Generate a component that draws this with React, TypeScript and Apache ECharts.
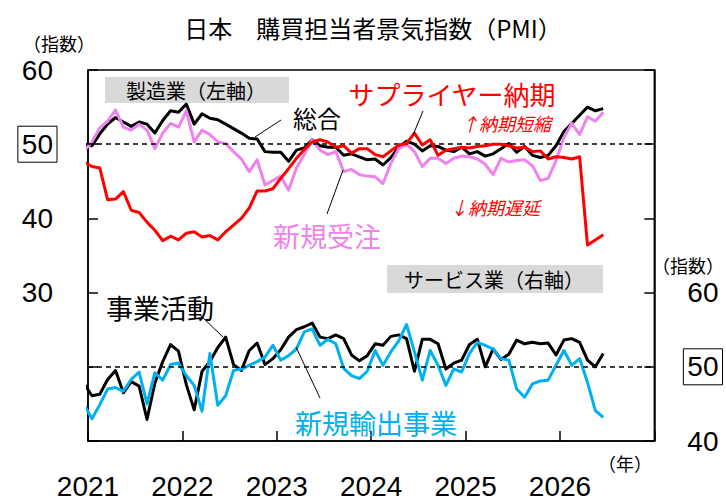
import React, { useEffect, useRef } from 'react';
import * as echarts from 'echarts';

// Monthly values, Dec 2020 .. Jun 2026 (first point is clipped at the axis)
const mfgComposite = [
  50.0,
  49.8, 51.4, 52.7, 53.6, 53.0, 52.4, 53.0, 52.7, 51.5, 53.2, 54.5, 54.3,
  55.4, 52.7, 54.1, 53.5, 53.3, 52.7, 52.1, 51.5, 50.8, 50.7, 49.0, 48.9,
  48.9, 47.7, 49.2, 49.5, 50.6, 49.8, 49.6, 49.6, 48.5, 48.7, 48.3, 47.9,
  48.0, 47.2, 48.2, 49.6, 50.4, 50.0, 49.1, 49.8, 49.7, 49.2, 49.0, 49.6,
  48.7, 49.0, 48.4, 48.7, 49.4, 50.1, 48.9, 49.7, 48.5, 48.2, 48.5, 49.8,
  51.7, 52.8, 53.9, 55.0, 54.5, 54.8,
];
const mfgNewOrders = [
  49.1,
  50.3, 52.2, 53.1, 54.6, 52.3, 51.9, 52.7, 51.9, 49.4, 51.5, 52.8, 52.3,
  54.5, 50.3, 51.9, 51.3, 50.3, 50.1, 49.0, 48.0, 46.3, 47.9, 44.5, 45.1,
  45.7, 43.8, 46.8, 48.6, 50.6, 49.2, 48.6, 49.0, 46.3, 46.6, 45.9, 45.7,
  45.6, 44.7, 47.4, 49.4, 50.0, 49.0, 47.0, 48.1, 48.1, 47.4, 48.1, 48.4,
  48.3, 48.0, 47.3, 45.9, 48.1, 47.6, 47.8, 47.9, 47.1, 45.1, 45.4, 47.8,
  50.9, 52.8, 51.3, 53.7, 53.1, 54.3,
];
const mfgDelivery = [
  47.6,
  47.0, 46.8, 42.5, 42.6, 43.6, 41.1, 40.8, 39.5, 38.4, 37.0, 37.6, 37.1,
  38.0, 38.2, 37.5, 37.7, 37.1, 38.2, 39.1, 40.0, 41.4, 43.7, 43.7, 44.0,
  45.4, 46.7, 48.1, 49.3, 50.3, 50.6, 50.3, 49.6, 49.8, 48.8, 49.4, 49.4,
  48.6, 48.3, 49.1, 49.9, 50.1, 51.5, 49.9, 50.6, 48.5, 49.2, 49.4, 49.6,
  49.5, 49.7, 49.8, 50.0, 50.0, 49.8, 49.5, 49.6, 49.0, 49.1, 48.0, 48.3,
  48.2, 48.0, 48.3, 36.4, 37.1, 37.8,
];
const svcActivity = [
  47.7,
  46.1, 46.3, 48.3, 49.5, 46.5, 48.0, 47.4, 42.9, 47.8, 50.7, 53.0, 52.1,
  47.6, 44.2, 49.4, 50.7, 52.6, 54.0, 50.3, 49.5, 52.2, 53.2, 50.3, 51.1,
  52.3, 54.0, 55.0, 55.4, 55.9, 54.0, 53.8, 54.3, 53.8, 51.6, 50.8, 51.5,
  53.1, 52.9, 54.1, 54.3, 53.8, 49.4, 53.7, 53.7, 53.1, 49.7, 50.5, 50.9,
  53.0, 53.7, 50.0, 52.4, 51.0, 51.7, 53.6, 53.1, 53.3, 53.1, 53.2, 51.6,
  53.6, 53.8, 53.3, 50.9, 50.0, 51.8,
];
const svcNewExport = [
  44.9,
  43.0, 44.9, 47.0, 47.2, 46.7, 48.3, 49.3, 45.0, 49.2, 48.2, 50.3, 50.5,
  48.8, 47.5, 44.0, 51.8, 44.8, 46.1, 49.5, 49.7, 50.2, 50.7, 51.3, 52.9,
  50.9, 51.5, 52.4, 54.7, 55.1, 52.9, 53.7, 53.1, 49.8, 48.8, 48.4, 49.4,
  52.2, 50.2, 52.0, 53.5, 55.7, 52.0, 48.2, 52.2, 50.2, 47.5, 49.7, 49.3,
  51.8, 53.3, 52.9, 52.4, 51.1, 50.9, 47.0, 45.9, 47.7, 48.1, 48.2, 50.2,
  52.2, 50.2, 51.1, 47.9, 44.1, 43.2,
];
const yearLabels = ['2021', '2022', '2023', '2024', '2025', '2026'];

// month index of each value: Dec 2020 = -1, plotted at mid-month
const toPoints = (vals: number[]) => vals.map((v, k) => [k - 1 + 0.5, v]);

const JP = 'Noto Sans CJK JP';
const NUM = 'Liberation Sans';

const labelRich = {
  b: {
    fontSize: 28, fontFamily: NUM, color: '#000',
    borderColor: '#000', borderWidth: 1, padding: [4, 4, 4, 4], lineHeight: 32,
  },
  n: {
    fontSize: 28, fontFamily: NUM, color: '#000',
    padding: [0, 4, 0, 4], lineHeight: 22,
  },
};

const dashed = {
  silent: true,
  symbol: ['none', 'none'],
  label: { show: false },
  lineStyle: { color: '#000', width: 1.5, type: [5, 4] },
  data: [{ yAxis: 50 }],
};

function txt(text: string, x: number, y: number, size: number, color: string, italic = false) {
  return {
    type: 'text', x, y, z: 50,
    style: {
      text, fill: color, fontSize: size, fontFamily: JP,
      fontStyle: italic ? 'italic' : 'normal',
      align: 'center', verticalAlign: 'middle',
    },
  };
}
function ln(x1: number, y1: number, x2: number, y2: number) {
  return { type: 'line', z: 50, shape: { x1, y1, x2, y2 }, style: { stroke: '#000', lineWidth: 1 } };
}

export default function App() {
  const ref = useRef<HTMLDivElement>(null);
  useEffect(() => {
    document.body.style.margin = '0';
    const chart = echarts.init(ref.current!, undefined, { renderer: 'svg' });
    const lineS = (name: string, data: number[], color: string, yAxisIndex: number, z: number, mark?: any) => ({
      type: 'line', name, yAxisIndex, data: toPoints(data), symbol: 'none', z,
      clip: true,
      lineStyle: { color, width: 3, join: 'round' },
      ...(mark ? { markLine: mark } : {}),
    });
    chart.setOption({
      animation: false,
      grid: { left: 88, right: 69, top: 70, bottom: 61, show: true, borderColor: '#000', borderWidth: 1.5 },
      xAxis: {
        type: 'value', min: 0, max: 72, interval: 12,
        axisLine: { lineStyle: { color: '#000', width: 1.5 } },
        axisTick: { inside: true, length: 10, lineStyle: { color: '#000', width: 1.5 } },
        splitLine: { show: false },
        axisLabel: {
          formatter: (v: number) => yearLabels[Math.round(v / 12)] ?? '',
          fontSize: 28, fontFamily: NUM, color: '#000', margin: 34, lineHeight: 22,
        },
      },
      yAxis: [
        {
          type: 'value', position: 'left', min: 10, max: 60, interval: 10,
          axisLine: { show: true, lineStyle: { color: '#000', width: 1.5 } },
          axisTick: { show: true, inside: true, length: 10, lineStyle: { color: '#000', width: 1.5 } },
          splitLine: { show: false },
          axisLabel: {
            margin: 31,
            formatter: (v: number) => (v === 50 ? '{b|50}' : v >= 30 ? `{n|${v}}` : ''),
            rich: labelRich,
          },
        },
        {
          type: 'value', position: 'right', min: 40, max: 90, interval: 10,
          axisLine: { show: true, lineStyle: { color: '#000', width: 1.5 } },
          axisTick: { show: true, inside: true, length: 10, lineStyle: { color: '#000', width: 1.5 } },
          splitLine: { show: false },
          axisLabel: {
            margin: 29,
            formatter: (v: number) => (v === 50 ? '{b|50}' : v <= 60 ? `{n|${v}}` : ''),
            rich: labelRich,
          },
        },
      ],
      series: [
        lineS('総合', mfgComposite, '#000000', 0, 3, dashed),
        lineS('新規受注', mfgNewOrders, '#EE82EE', 0, 4),
        lineS('サプライヤー納期', mfgDelivery, '#FF0000', 0, 5),
        lineS('事業活動', svcActivity, '#000000', 1, 3, dashed),
        lineS('新規輸出事業', svcNewExport, '#00B0F0', 1, 4),
      ],
      graphic: [
        { type: 'rect', z: 1, shape: { x: 105, y: 77, width: 184, height: 26 }, style: { fill: '#D9D9D9' } },
        { type: 'rect', z: 1, shape: { x: 387, y: 265, width: 216, height: 28 }, style: { fill: '#D9D9D9' } },
        txt('日本　購買担当者景気指数（PMI）', 373, 27, 24, '#000'),
        txt('（指数）', 59, 43, 18, '#000'),
        txt('（指数）', 688, 265, 18, '#000'),
        txt('（年）', 625, 463, 18, '#000'),
        txt('製造業（左軸）', 196, 90, 20, '#000'),
        txt('サービス業（右軸）', 494, 279, 20, '#000'),
        txt('総合', 317, 117, 24, '#000'),
        txt('サプライヤー納期', 452, 93, 26, '#FF0000'),
        txt('↑納期短縮', 506, 123, 18, '#FF0000', true),
        txt('↓納期遅延', 495, 207, 18, '#FF0000', true),
        txt('新規受注', 327, 235, 27, '#EE82EE'),
        txt('事業活動', 160, 307, 27, '#000'),
        txt('新規輸出事業', 376, 422, 27, '#00B0F0'),
        ln(281, 120, 255, 137),
        ln(423, 111, 413, 135),
        ln(327, 214, 343, 170),
        ln(200, 315, 223, 337),
        ln(296, 347, 320, 398),
      ],
    });
    return () => chart.dispose();
  }, []);
  return <div ref={ref} style={{ width: 726, height: 502 }} />;
}
